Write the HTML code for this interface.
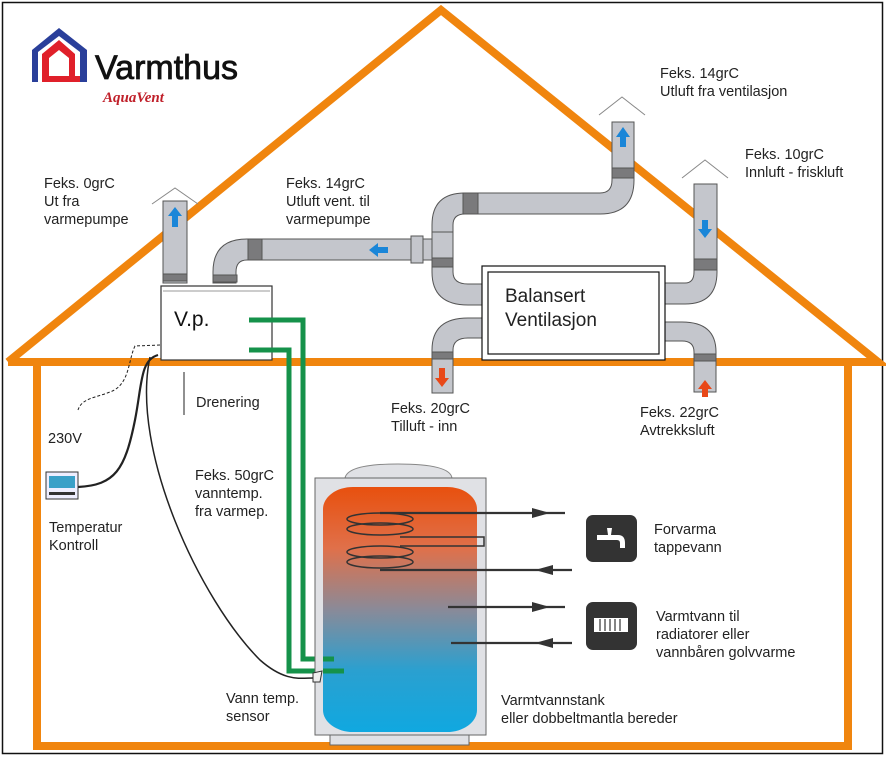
<!DOCTYPE html>
<html><head><meta charset="utf-8"><style>
html,body{margin:0;padding:0;background:#fff;}
svg{display:block;}
text{font-family:"Liberation Sans",Arial,sans-serif;fill:#222;}
</style></head><body>
<svg width="886" height="757" viewBox="0 0 886 757" xmlns="http://www.w3.org/2000/svg">
<defs>
<linearGradient id="tank" x1="0" y1="0" x2="0" y2="1">
<stop offset="0" stop-color="#e8500e"/>
<stop offset="0.25" stop-color="#e0704a"/>
<stop offset="0.5" stop-color="#8a8a98"/>
<stop offset="0.75" stop-color="#2aa0d0"/>
<stop offset="1" stop-color="#10a8e0"/>
</linearGradient>
</defs>
<rect x="2.5" y="2.5" width="880" height="751" fill="#fff" stroke="#111" stroke-width="1.5"/>

<!-- house -->
<g stroke="#f0850e" stroke-width="8" fill="none" stroke-linejoin="miter">
<polyline points="8,362 441,10 878,362 8,362"/>
<polyline points="37,362 37,746 848,746 848,362"/>
</g>

<!-- logo -->
<g>
<polygon points="32,50 59,28 87,50 87,82 80,82 80,52 59,36 38,52 38,82 32,82" fill="#2a3f9a"/>
<polygon points="42,82 42,54 59,40 75,54 75,82 69,82 69,58 59,50 49,58 49,76 80,76 80,82" fill="#e0202a"/>
<text x="95" y="79" font-size="34" style="fill:#111;stroke:#111;stroke-width:0.8">Varmthus</text>
<text x="103" y="102" font-size="15" font-style="italic" font-weight="bold" style="fill:#c0202a;font-family:'Liberation Serif',serif">AquaVent</text>
</g>

<!-- ducts -->
<g fill="#c4c6cc" stroke="#555" stroke-width="1">
<rect x="163" y="201" width="24" height="82"/>
<rect x="163" y="274" width="24" height="7" fill="#7a7a7c"/>
<path d="M213,283 L213,272 Q213,239 247,239 L415,239 L415,260 L247,260 Q236,260 236,272 L236,283 Z"/>
<rect x="248" y="239" width="14" height="21" fill="#7a7a7c"/>
<rect x="213" y="275" width="24" height="7" fill="#7a7a7c"/>
<rect x="415" y="239" width="17" height="21"/>
<rect x="411" y="236" width="12" height="27"/>
<path d="M432,250 L432,225 Q432,193 465,193 L600,193 Q612,193 612,180 L612,122 L634,122 L634,180 Q634,214 600,214 L465,214 Q453,214 453,225 L453,250 Z"/>
<path d="M432,248 L432,272 Q432,305 468,305 L482,305 L482,284 L468,284 Q453,284 453,272 L453,248 Z"/>
<rect x="432" y="232" width="21" height="30"/>
<rect x="463" y="193" width="15" height="21" fill="#7a7a7c"/>
<rect x="432" y="258" width="21" height="9" fill="#7a7a7c"/>
<rect x="612" y="168" width="22" height="10" fill="#7a7a7c"/>
<path d="M694,184 L717,184 L717,272 Q717,304 685,304 L665,304 L665,283 L685,283 Q694,283 694,272 Z"/>
<rect x="694" y="259" width="23" height="11" fill="#7a7a7c"/>
<path d="M482,318 L468,318 Q432,318 432,350 L432,393 L453,393 L453,350 Q453,338 468,338 L482,338 Z"/>
<rect x="432" y="352" width="21" height="7" fill="#7a7a7c"/>
<path d="M665,322 L682,322 Q716,322 716,352 L716,392 L694,392 L694,352 Q694,341 682,341 L665,341 Z"/>
<rect x="694" y="354" width="22" height="7" fill="#7a7a7c"/>
</g>
<g stroke="#888" fill="none" stroke-width="1">
<polyline points="152,204 175,188 198,204"/>
<polyline points="599,115 622,97 645,115"/>
<polyline points="682,178 705,160 728,178"/>
</g>
<g fill="#1a86d8">
<polygon points="175,207 168,216 172,216 172,227 178,227 178,216 182,216"/>
<polygon points="623,127 616,137 620,137 620,147 626,147 626,137 630,137"/>
<polygon points="705,238 698,229 702,229 702,220 708,220 708,229 712,229"/>
<polygon points="369,250 378,243 378,247 388,247 388,253 378,253 378,257"/>
</g>
<g fill="#e84818">
<polygon points="442,387 435,378 439,378 439,368 445,368 445,378 449,378"/>
<polygon points="705,380 698,389 702,389 702,397 708,397 708,389 712,389"/>
</g>

<rect x="482" y="266" width="183" height="94" fill="#fff" stroke="#111" stroke-width="1.2"/>
<rect x="488" y="272" width="171" height="82" fill="#fff" stroke="#111" stroke-width="1.2"/>
<text x="505" y="302" font-size="19">Balansert</text>
<text x="505" y="326" font-size="19">Ventilasjon</text>

<rect x="161" y="286" width="111" height="74" fill="#fff" stroke="#333" stroke-width="1.2"/>
<line x1="163" y1="291" x2="270" y2="291" stroke="#999"/>
<text x="174" y="326" font-size="21" style="fill:#111">V.p.</text>

<g stroke="#15924a" stroke-width="5" fill="none">
<polyline points="249,320 303,320 303,659 334,659"/>
<polyline points="249,350 289,350 289,671 344,671"/>
</g>

<path d="M345,478 Q348,464 398,464 Q450,464 452,478 Z" fill="#e0e1e5" stroke="#888"/>
<rect x="315" y="478" width="171" height="257" fill="#e0e1e5" stroke="#666"/>
<rect x="330" y="735" width="139" height="10" fill="#e0e1e5" stroke="#666"/>
<rect x="323" y="487" width="154" height="245" rx="30" ry="22" fill="url(#tank)"/>
<g stroke="#15924a" stroke-width="5"><line x1="323" y1="659" x2="334" y2="659"/><line x1="323" y1="671" x2="344" y2="671"/></g>
<g stroke="#333" stroke-width="1.5" fill="none">
<ellipse cx="380" cy="519" rx="33" ry="6"/>
<ellipse cx="380" cy="529" rx="33" ry="6"/>
<ellipse cx="380" cy="552" rx="33" ry="6"/>
<ellipse cx="380" cy="562" rx="33" ry="6"/>
<polyline points="400,537 484,537 484,546 400,546"/>
</g>
<g stroke="#333" stroke-width="2.2">
<line x1="380" y1="513" x2="565" y2="513"/>
<line x1="380" y1="570" x2="572" y2="570"/>
<line x1="448" y1="607" x2="565" y2="607"/>
<line x1="451" y1="643" x2="572" y2="643"/>
</g>
<g fill="#333">
<polygon points="550,513 532,508 532,518"/>
<polygon points="535,570 553,565 553,575"/>
<polygon points="550,607 532,602 532,612"/>
<polygon points="535,643 553,638 553,648"/>
</g>

<rect x="586" y="515" width="51" height="47" rx="7" fill="#333"/>
<path d="M597,535 L618,535 Q625,535 625,543 L625,548 L620,548 L620,543 Q620,540 617,540 L597,540 Z M607,528 L612,528 L611,535 L608,535 Z" fill="#fff"/>
<rect x="586" y="602" width="51" height="48" rx="7" fill="#333"/>
<rect x="594" y="618" width="34" height="14" fill="#fff"/>
<g stroke="#333" stroke-width="1.2"><line x1="600" y1="619" x2="600" y2="631"/><line x1="605" y1="619" x2="605" y2="631"/><line x1="610" y1="619" x2="610" y2="631"/><line x1="615" y1="619" x2="615" y2="631"/><line x1="620" y1="619" x2="620" y2="631"/></g>

<g fill="none" stroke="#222">
<path d="M78,487 C115,485 125,470 135,420 C142,385 140,360 158,355" stroke-width="2.2"/>
<path d="M150,357 C130,450 200,600 260,660 C285,682 300,678 313,678" stroke-width="1.5"/>
<path d="M160,345 L135,346 C128,360 130,385 110,392 C95,398 82,398 78,410" stroke-width="1" stroke-dasharray="3,2"/>
<line x1="184" y1="372" x2="184" y2="415" stroke-width="1"/>
</g>
<polygon points="313,673 322,671 320,682 313,682" fill="#eee" stroke="#333"/>

<rect x="46" y="472" width="32" height="27" fill="#eef" stroke="#333"/>
<rect x="49" y="476" width="26" height="12" fill="#3aa0c8"/>
<rect x="49" y="492" width="26" height="3" fill="#333"/>

<g font-size="14.5">
<text x="44" y="188">Feks. 0grC</text>
<text x="44" y="206">Ut fra</text>
<text x="44" y="224">varmepumpe</text>
<text x="286" y="188">Feks. 14grC</text>
<text x="286" y="206">Utluft vent. til</text>
<text x="286" y="224">varmepumpe</text>
<text x="660" y="78">Feks. 14grC</text>
<text x="660" y="96">Utluft fra ventilasjon</text>
<text x="745" y="159">Feks. 10grC</text>
<text x="745" y="177">Innluft - friskluft</text>
<text x="391" y="413">Feks. 20grC</text>
<text x="391" y="431">Tilluft - inn</text>
<text x="640" y="417">Feks. 22grC</text>
<text x="640" y="435">Avtrekksluft</text>
<text x="196" y="407">Drenering</text>
<text x="48" y="443">230V</text>
<text x="49" y="532">Temperatur</text>
<text x="49" y="550">Kontroll</text>
<text x="195" y="480">Feks. 50grC</text>
<text x="195" y="498">vanntemp.</text>
<text x="195" y="516">fra varmep.</text>
<text x="226" y="703">Vann temp.</text>
<text x="226" y="721">sensor</text>
<text x="654" y="534">Forvarma</text>
<text x="654" y="552">tappevann</text>
<text x="656" y="621">Varmtvann til</text>
<text x="656" y="639">radiatorer eller</text>
<text x="656" y="657">vannbåren golvvarme</text>
<text x="501" y="705">Varmtvannstank</text>
<text x="501" y="723">eller dobbeltmantla bereder</text>
</g>
</svg>
</body></html>
